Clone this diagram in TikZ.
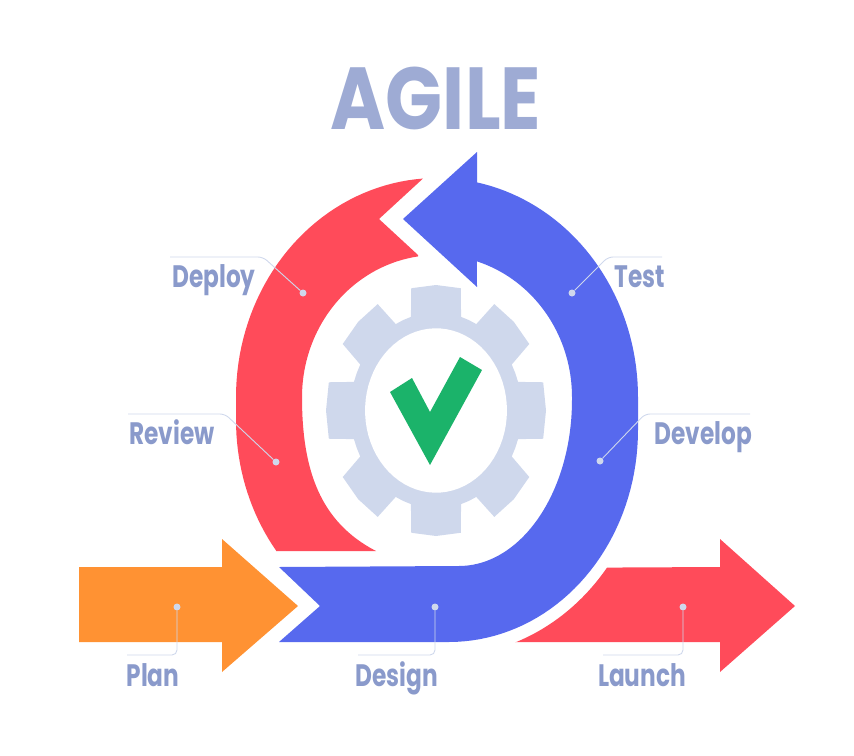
\documentclass[tikz,border=0pt]{standalone}
\usepackage{fontspec}
\setmainfont{Poppins}
\definecolor{redarrow}{HTML}{FF4B5A}
\definecolor{bluearrow}{HTML}{5769EE}
\definecolor{orangearrow}{HTML}{FF9233}
\definecolor{gearcolor}{HTML}{CFD8EC}
\definecolor{checkcolor}{HTML}{1BB36A}
\definecolor{labelcolor}{HTML}{8A9ACB}
\definecolor{titlecolor}{HTML}{9EABD4}
\tikzset{
  steplabel/.style={text=labelcolor,font=\fontsize{31}{31}\selectfont\bfseries,xscale=.75,inner sep=0pt,anchor=base},
  stepdot/.style={circle,fill=gearcolor,minimum size=7pt,inner sep=0pt},
  leader/.style={draw=gearcolor,line width=.9pt,rounded corners=5pt}
}
\begin{document}
\begin{tikzpicture}[x=1pt,y=-1pt]
\useasboundingbox (0,0) rectangle (854,755);
\node[text=titlecolor,font=\fontsize{88}{88}\selectfont\bfseries,xscale=.85,inner sep=0pt] (title) at (436,98) {AGILE};
\fill[orangearrow] (79,567)--(222,567)--(222,539)--(298,606)--(222,672)--(222,642)--(79,642)--cycle;
\fill[redarrow] (516,642)--plot[domain=70:37.5,samples=20] ({446+203*cos(\x)},{430+226*sin(\x)})--(720,567)--(720,539)--(795,606)--(720,672)--(720,642)--cycle;
\fill[redarrow] (276,551)--plot[domain=218:180,samples=20] ({425+189*cos(\x)},{420-212*sin(\x)})--plot[domain=180:94,samples=40] ({437+201*cos(\x)},{397-219*sin(\x)})--(379,219)--(418,255)--plot[domain=98:180,samples=40] ({437+135*cos(\x)},{397-142*sin(\x)}) .. controls (302,470) and (320,522) .. (376,551)--cycle;
\fill[bluearrow] (279,567)--(320,606)--(279,642)--(449,642)--plot[domain=90:0,samples=40] ({449+189*cos(\x)},{430+212*sin(\x)})--plot[domain=0:78.5,samples=40] ({437+201*cos(\x)},{397-219*sin(\x)})--(477,152)--(403,219)--(477,287)--plot[domain=72.8:0,samples=40] ({437+135*cos(\x)},{397-142*sin(\x)})--plot[domain=0:90,samples=40] ({459+113*cos(\x)},{400+166*sin(\x)})--cycle;
\begin{scope}[shift={(436,410.5)},x=110pt,y=125.5pt]
\fill[gearcolor] ({cos(-13)},{sin(-13)}) \foreach \a in {0,45,...,315} {
  -- ({cos(\a-13)},{sin(\a-13)}) -- ({cos(\a)},{sin(\a)}) -- ({cos(\a+13)},{sin(\a+13)})
  -- ({.78*cos(\a+17)},{.78*sin(\a+17)}) -- ({.78*cos(\a+22.5)},{.78*sin(\a+22.5)}) -- ({.78*cos(\a+28)},{.78*sin(\a+28)})
} -- cycle;
\fill[white] plot[domain=0:360,samples=72] ({.645*cos(\x)},{.655*sin(\x)})--cycle;
\end{scope}
\fill[checkcolor] (390,392)--(412,378)--(430,412)--(460,357)--(482,370)--(430,465)--cycle;
\node[steplabel] (deploy) at (214,287) {Deploy};
\node[steplabel] (review) at (172,444) {Review};
\node[steplabel] (plan) at (153,686) {Plan};
\node[steplabel] (design) at (397,686) {Design};
\node[steplabel] (launch) at (642,686) {Launch};
\node[steplabel] (test) at (640,287) {Test};
\node[steplabel] (develop) at (703,444) {Develop};
\node[stepdot] (deploydot) at (303,293) {}; \node[stepdot] (reviewdot) at (276,462) {};
\node[stepdot] (plandot) at (177,607) {}; \node[stepdot] (designdot) at (435,607) {};
\node[stepdot] (launchdot) at (683,607) {}; \node[stepdot] (testdot) at (572,293) {};
\node[stepdot] (developdot) at (600,461) {};
\coordinate (deploybend) at (263,257); \coordinate (deployend) at (170,257);
\coordinate (reviewbend) at (225,414); \coordinate (reviewend) at (128,414);
\coordinate (planbend) at (177,655); \coordinate (planend) at (127,655);
\coordinate (designbend) at (435,655); \coordinate (designend) at (358,655);
\coordinate (launchbend) at (683,655); \coordinate (launchend) at (603,655);
\coordinate (testbend) at (608,257); \coordinate (testend) at (662,257);
\coordinate (developbend) at (645,414); \coordinate (developend) at (750,414);
\draw[leader] (deploydot)--(deploybend)--(deployend);
\draw[leader] (reviewdot)--(reviewbend)--(reviewend);
\draw[leader] (plandot)--(planbend)--(planend);
\draw[leader] (designdot)--(designbend)--(designend);
\draw[leader] (launchdot)--(launchbend)--(launchend);
\draw[leader] (testdot)--(testbend)--(testend);
\draw[leader] (developdot)--(developbend)--(developend);
\end{tikzpicture}
\end{document}
